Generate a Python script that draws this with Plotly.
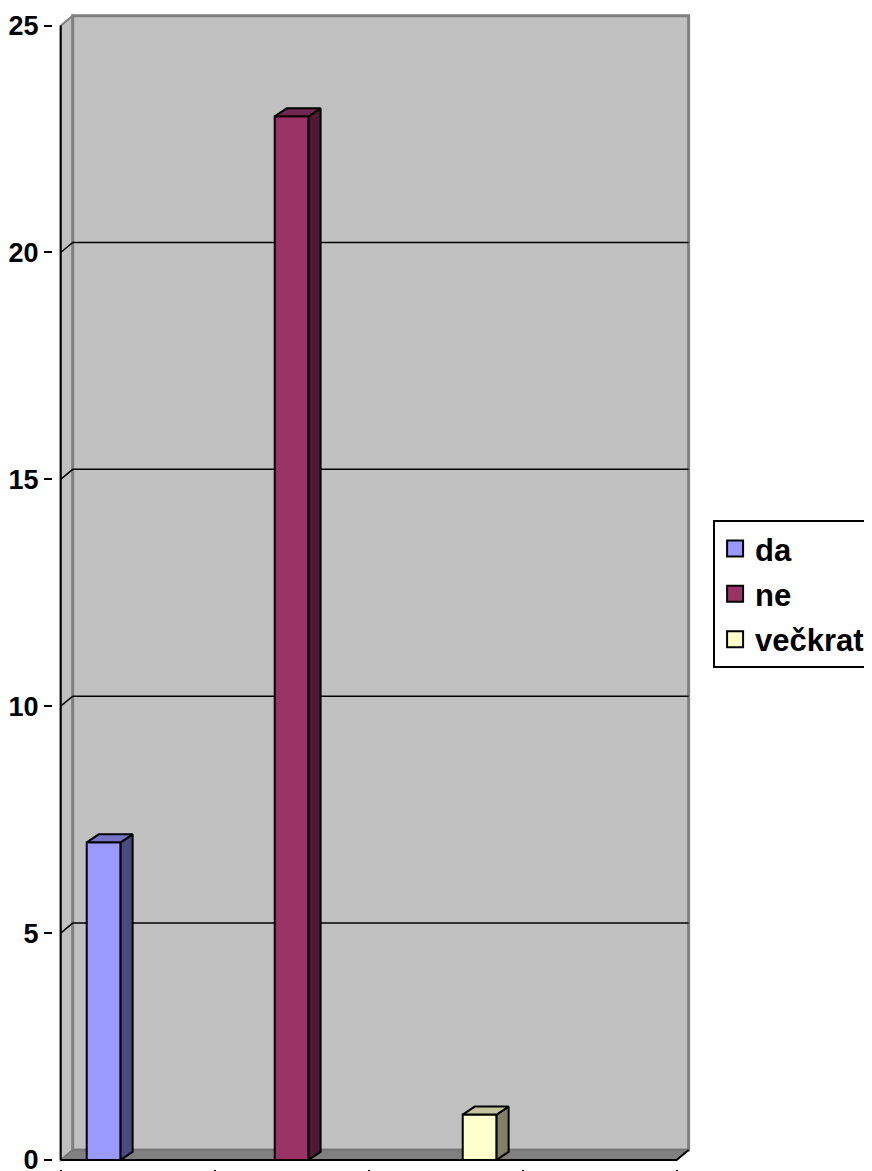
import plotly.graph_objects as go

# survey answers
categories = ["da", "ne", "večkrat"]
counts = [7, 23, 1]
front_colors = ["#9999FF", "#993366", "#FFFFCC"]
top_colors = ["#7474C4", "#732650", "#C4C49C"]
side_colors = ["#4B4B80", "#4D1A33", "#808066"]
y_ticks = [0, 5, 10, 15, 20, 25]

# 3D look: depth offsets in axis units
n_slots = 4
y_max = 25
wall_dx, wall_dy = 0.078, 0.22
bar_dx, bar_dy = 0.078, 0.176
bar_w = 0.22
spacing = 1.221
centers = [1.5 + (i - 1) * spacing for i in range(len(categories))]

fig = go.Figure()

# walls, gridlines and floor
shapes = []
shapes.append(dict(type="path", layer="below",
                   path=f"M0,0 L{wall_dx},{wall_dy} L{wall_dx},{y_max + wall_dy} L0,{y_max} Z",
                   fillcolor="#C0C0C0", line=dict(color="#808080", width=2)))
shapes.append(dict(type="rect", layer="below", x0=wall_dx, y0=wall_dy,
                   x1=n_slots + wall_dx, y1=y_max + wall_dy,
                   fillcolor="#C0C0C0", line=dict(color="#808080", width=3)))
for v in y_ticks[1:-1]:
    shapes.append(dict(type="path", layer="below",
                       path=f"M0,{v} L{wall_dx},{v + wall_dy} L{n_slots + wall_dx},{v + wall_dy}",
                       line=dict(color="black", width=1.5)))
shapes.append(dict(type="path", layer="below",
                   path=f"M0,0 L{wall_dx},{wall_dy} L{n_slots + wall_dx},{wall_dy} L{n_slots},0 Z",
                   fillcolor="#808080", line=dict(color="#6E6E6E", width=1)))
# axis lines
shapes.append(dict(type="line", layer="below", x0=0, y0=0, x1=0, y1=y_max,
                   line=dict(color="black", width=2)))
shapes.append(dict(type="path", layer="below",
                   path=f"M0,0 L{n_slots},0 L{n_slots + wall_dx},{wall_dy}",
                   line=dict(color="black", width=2)))

# bars: front faces
fig.add_trace(go.Bar(
    x=centers, y=counts, width=bar_w,
    marker=dict(color=front_colors, line=dict(color="black", width=2)),
    showlegend=False, hoverinfo="skip"))

# bars: side and top faces
for c, v, tc, sc in zip(centers, counts, top_colors, side_colors):
    xl, xr = c - bar_w / 2, c + bar_w / 2
    fig.add_trace(go.Scatter(
        x=[xr, xr + bar_dx, xr + bar_dx, xr, xr],
        y=[0, bar_dy, v + bar_dy, v, 0],
        mode="lines", fill="toself", fillcolor=sc,
        line=dict(color="black", width=2), showlegend=False, hoverinfo="skip"))
    fig.add_trace(go.Scatter(
        x=[xl, xl + bar_dx, xr + bar_dx, xr, xl],
        y=[v, v + bar_dy, v + bar_dy, v, v],
        mode="lines", fill="toself", fillcolor=tc,
        line=dict(color="black", width=2), showlegend=False, hoverinfo="skip"))

# legend entries
for name, col in zip(categories, front_colors):
    fig.add_trace(go.Scatter(
        x=[None], y=[None], mode="markers", name=name, legendgroup=name,
        marker=dict(symbol="square", size=16, color=col,
                    line=dict(color="black", width=2))))

# the page body adds 8px, margins are shifted to compensate
fig.update_layout(
    width=872, height=1171,
    margin=dict(l=45, r=188, t=4, b=10, autoexpand=False),
    paper_bgcolor="white", plot_bgcolor="white",
    shapes=shapes,
    showlegend=True,
    legend=dict(x=1.033, y=0.561, xanchor="left", yanchor="top",
                bordercolor="black", borderwidth=2, bgcolor="white",
                font=dict(family="Liberation Sans, Arial", size=31, color="black", weight="bold"),
                traceorder="grouped", tracegroupgap=2, itemwidth=30, entrywidth=175),
    xaxis=dict(range=[-0.05, 4.1], tickvals=list(range(n_slots + 1)),
               showticklabels=False, ticks="outside", ticklen=9, tickwidth=2,
               tickcolor="black", showgrid=False, zeroline=False, showline=False),
    yaxis=dict(range=[-0.2, 25.3], tickvals=y_ticks, ticks="outside", ticklen=8,
               tickwidth=2, tickcolor="black", showgrid=False, zeroline=False,
               showline=False,
               tickfont=dict(family="Liberation Sans, Arial", size=27, color="black", weight="bold")),
)

fig.write_html("out.html")
